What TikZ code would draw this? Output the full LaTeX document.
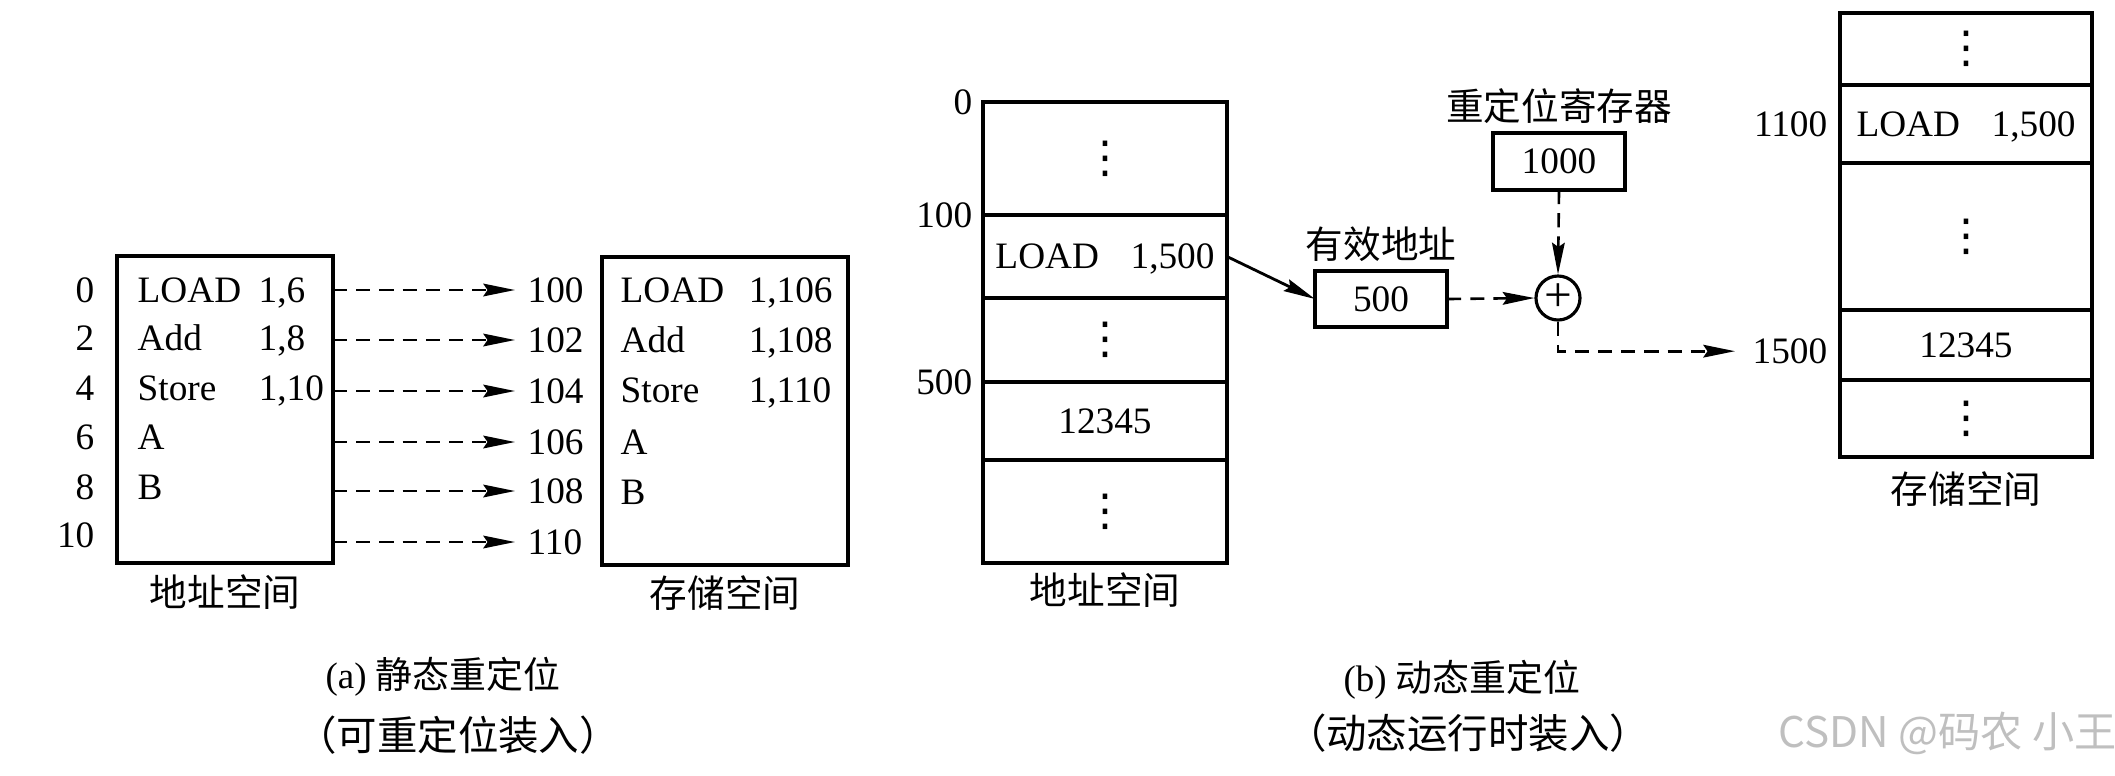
\documentclass[tikz,border=0pt]{standalone}
\usepackage{fontspec}
\setmainfont{Liberation Serif}
\newfontfamily\cjk{Noto Sans CJK SC}
\newfontfamily\symfont{DejaVu Sans}
\usetikzlibrary{positioning,arrows.meta}

\newcommand{\celldots}{{\symfont\fontsize{12.5}{13}\selectfont ⋮}}

\begin{document}
\begin{tikzpicture}[
    x=0.01cm, y=-0.01cm,
    every node/.style={font=\fontsize{10.6}{12.7}\selectfont},
    txt/.style={inner sep=0pt, text height=7pt, text depth=0pt},
    cjklabel/.style={inner sep=0pt, font=\cjk\fontsize{10.7}{13}\selectfont},
    box/.style={draw, line width=1pt, inner sep=0pt, outer sep=0pt},
    vcell/.style={box, minimum width=24.4mm},
    pcell/.style={box, minimum width=25.2mm},
    tip/.style={-{Stealth[length=9pt,width=3.6pt,inset=1.2pt]}},
    dasharrow/.style={tip, line width=0.75pt, dash pattern=on 4pt off 2.6pt}
]

% page size
\useasboundingbox (0,0) rectangle (2115,775);

% (a) address space
\node[box, minimum width=21.6mm, minimum height=30.7mm] (addrA) at (225,409.5) {};
\node[txt, anchor=east] (a0) at (95,290) {0};
\node[txt, anchor=east] (a2) at (95,338) {2};
\node[txt, anchor=east] (a4) at (95,388) {4};
\node[txt, anchor=east] (a6) at (95,437) {6};
\node[txt, anchor=east] (a8) at (95,487) {8};
\node[txt, anchor=east] (a10) at (95,535) {10};

\node[txt, anchor=west] (ia0) at (137,290) {\makebox[12.1mm][l]{LOAD}1,6};
\node[txt, anchor=west] (ia2) at (137,338) {\makebox[12.1mm][l]{Add}1,8};
\node[txt, anchor=west] (ia4) at (137,388) {\makebox[12.1mm][l]{Store}1,10};
\node[txt, anchor=west] (ia6) at (137,437) {A};
\node[txt, anchor=west] (ia8) at (137,487) {B};
\node[cjklabel, below=1.1mm of addrA] (addrAName) {地址空间};

% (a) storage space
\node[box, minimum width=24.6mm, minimum height=30.8mm] (memA) at (725,411) {};
\node[txt, anchor=west] (m100) at (527,290) {100};
\node[txt, anchor=west] (m102) at (527,340) {102};
\node[txt, anchor=west] (m104) at (527,391) {104};
\node[txt, anchor=west] (m106) at (527,442) {106};
\node[txt, anchor=west] (m108) at (527,491) {108};
\node[txt, anchor=west] (m110) at (527,542) {110};

\node[txt, anchor=west] (im100) at (620,290) {\makebox[12.8mm][l]{LOAD}1,106};
\node[txt, anchor=west] (im102) at (620,340) {\makebox[12.8mm][l]{Add}1,108};
\node[txt, anchor=west] (im104) at (620,390) {\makebox[12.8mm][l]{Store}1,110};
\node[txt, anchor=west] (im106) at (620,442) {A};
\node[txt, anchor=west] (im108) at (620,492) {B};
\node[cjklabel, below=1mm of memA] (memAName) {存储空间};

% loading arrows
\draw[dasharrow, shorten >=1.2mm] (addrA.east |- m100) -- (m100);
\draw[dasharrow, shorten >=1.2mm] (addrA.east |- m102) -- (m102);
\draw[dasharrow, shorten >=1.2mm] (addrA.east |- m104) -- (m104);
\draw[dasharrow, shorten >=1.2mm] (addrA.east |- m106) -- (m106);
\draw[dasharrow, shorten >=1.2mm] (addrA.east |- m108) -- (m108);
\draw[dasharrow, shorten >=1.2mm] (addrA.east |- m110) -- (m110);

\node[inner sep=0pt, font=\fontsize{10.5}{12}\selectfont] (capA) at (443,677) {(a) {\cjk 静态重定位}};
\node[cjklabel, font=\cjk\fontsize{11.5}{13}\selectfont] (capA2) at (458,735) {（可重定位装入）};

% (b) address space
\node[vcell, minimum height=11.3mm] (vTop) at (1105,158.5) {\celldots};
\node[vcell, txt, minimum height=8.3mm, below=0pt of vTop] (vLoad) {LOAD\hspace{9pt}1,500};
\node[vcell, minimum height=8.4mm, below=0pt of vLoad] (vGap) {\celldots};
\node[vcell, txt, minimum height=7.8mm, below=0pt of vGap] (vData) {12345};
\node[vcell, minimum height=10.3mm, below=0pt of vData] (vEnd) {\celldots};
\node[txt, left=1mm of vTop.north west] (v0) {0};
\node[txt, left=1mm of vLoad.north west] (v100) {100};
\node[txt, left=1mm of vData.north west] (v500) {500};
\node[cjklabel, below=0.9mm of vEnd] (vName) {地址空间};

% registers and adder
\node[box, txt, minimum width=13.2mm, minimum height=5.6mm] (eff) at (1381,299) {500};
\node[cjklabel, above=0.9mm of eff] (effName) {有效地址};
\node[box, txt, minimum width=13.2mm, minimum height=5.7mm] (reg) at (1559,161.5) {1000};
\node[cjklabel, above=0.9mm of reg] (regName) {重定位寄存器};
\node[draw, circle, line width=0.9pt, minimum size=4.4mm, inner sep=0pt,
      font=\fontsize{14}{14}\selectfont] (adder) at (1558,298) {+};

% (b) storage space
\node[pcell, minimum height=7.2mm] (pTop) at (1966,49) {\celldots};
\node[pcell, txt, minimum height=7.8mm, below=0pt of pTop] (pLoad) {LOAD\hspace{9pt}1,500};
\node[pcell, minimum height=14.7mm, below=0pt of pLoad] (pGap) {\celldots};
\node[pcell, txt, minimum height=7mm, below=0pt of pGap] (pData) {12345};
\node[pcell, minimum height=7.7mm, below=0pt of pData] (pEnd) {\celldots};
\node[txt, left=1.2mm of pLoad] (p1100) {1100};
\node[txt, left=1.2mm of pData, yshift=-0.6mm] (p1500) {1500};
\node[cjklabel, below=1.4mm of pEnd] (pName) {存储空间};

% address translation
\draw[tip, line width=0.8pt] (vLoad.east) -- (eff.west);
\draw[dasharrow] (eff.east) -- (adder.west);
\draw[dasharrow] (reg.south) -- (adder.north);
\draw[dasharrow, shorten >=1.7mm] (adder.south) |- (p1500.west);

\node[inner sep=0pt, font=\fontsize{10.5}{12}\selectfont] (capB) at (1462,680) {(b) {\cjk 动态重定位}};
\node[cjklabel, font=\cjk\fontsize{11.5}{13}\selectfont] (capB2) at (1468,733) {（动态运行时装入）};

% watermark
\node[inner sep=0pt, anchor=west, text=black!25, font=\cjk\fontsize{12}{14}\selectfont] (mark) at (1778,733) {CSDN @码农 小王};

\end{tikzpicture}
\end{document}
